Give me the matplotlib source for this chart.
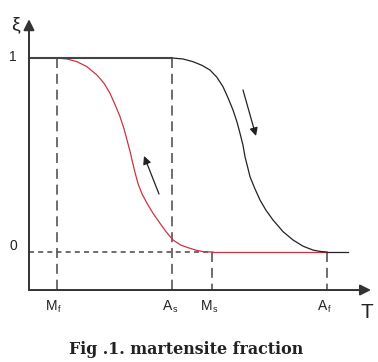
import matplotlib
matplotlib.use('Agg')
import matplotlib.pyplot as plt

# transformation temperatures (arbitrary units along T)
temp_names = ['M', 'A', 'M', 'A']
temp_subs = ['f', 's', 's', 'f']
T_Mf, T_As, T_Ms, T_Af = 57, 172, 212, 327

# heating curve (black): martensite -> austenite
heat_T = [172, 183, 193, 202, 210, 217, 223, 228, 233, 237, 240, 243, 245, 248, 250,
          255, 260, 266, 273, 283, 293, 303, 313, 320, 327]
heat_xi = [1.0, 0.995, 0.981, 0.962, 0.938, 0.900, 0.852, 0.795, 0.732, 0.670, 0.612,
           0.550, 0.491, 0.430, 0.388, 0.325, 0.268, 0.215, 0.165, 0.105, 0.062, 0.030,
           0.010, 0.003, 0.0]

# cooling curve (red): austenite -> martensite
cool_T = [57, 67, 77, 87, 97, 104, 110, 115, 120, 124, 127, 130, 132, 135, 138,
          142, 147, 153, 160, 166, 173, 181, 190, 197, 203, 213]
cool_xi = [1.0, 0.995, 0.981, 0.955, 0.912, 0.870, 0.818, 0.760, 0.698, 0.635, 0.577,
           0.520, 0.474, 0.410, 0.353, 0.300, 0.251, 0.200, 0.148, 0.105, 0.062, 0.035,
           0.019, 0.008, 0.002, 0.0]

x_end = 348          # where the xi=0 line stops
axis_T = 29          # position of the xi axis
axis_xi = -0.196     # position of the T axis

fig = plt.figure(figsize=(3.78, 3.62), dpi=100)
ax = fig.add_axes([0, 0, 1, 1])
ax.set_xlim(0, 378)
ax.set_ylim((252 - 362) / 194, 252 / 194)
ax.axis('off')

axc = '#333333'
dashc = '#555555'

# axes with arrow heads
ax.annotate('', xy=(axis_T, 1.20), xytext=(axis_T, axis_xi),
            arrowprops=dict(arrowstyle='-|>', lw=1.4, color=axc, mutation_scale=16,
                            shrinkA=0, shrinkB=0))
ax.annotate('', xy=(371, axis_xi), xytext=(axis_T, axis_xi),
            arrowprops=dict(arrowstyle='-|>', lw=1.4, color=axc, mutation_scale=16,
                            shrinkA=0, shrinkB=0))

# dashed guide lines
ax.plot([T_Mf, T_Mf], [1, axis_xi], color=dashc, lw=1.2, ls=(0, (6, 3.5)))
ax.plot([T_As, T_As], [1, axis_xi], color=dashc, lw=1.2, ls=(0, (6, 3.5)))
ax.plot([T_Ms, T_Ms], [0, axis_xi], color=dashc, lw=1.2, ls=(0, (6, 3.5)))
ax.plot([T_Af, T_Af], [0, axis_xi], color=dashc, lw=1.2, ls=(0, (6, 3.5)))
ax.plot([axis_T, T_Ms], [0, 0], color=dashc, lw=1.2, ls=(0, (3, 2.5)))

# curves
ax.plot(cool_T, cool_xi, color='#cc3344', lw=0.9)
ax.plot([T_Ms, T_Af], [0, 0], color='#cc3344', lw=0.9)
ax.plot([T_Af, x_end], [0, 0], color='#222222', lw=0.9)
ax.plot(heat_T, heat_xi, color='#222222', lw=0.9)
ax.plot([axis_T, T_As], [1, 1], color='#444444', lw=1.5)

# direction arrows
ax.annotate('', xy=(256, 0.598), xytext=(243, 0.835),
            arrowprops=dict(arrowstyle='-|>', lw=0.9, color='#222222', mutation_scale=12,
                            shrinkA=0, shrinkB=0))
ax.annotate('', xy=(144, 0.495), xytext=(159, 0.299),
            arrowprops=dict(arrowstyle='-|>', lw=0.9, color='#222222', mutation_scale=12,
                            shrinkA=0, shrinkB=0))

# labels
fam = ['Liberation Sans', 'DejaVu Sans']
txt = dict(color='#222222', family=fam)
ax.text(15, 1.17, '\u03be', fontsize=14, ha='center', va='center', **txt)
ax.text(13, 1.005, '1', fontsize=10, ha='center', va='center', **txt)
ax.text(13, 0.031, '0', fontsize=10, ha='center', va='center', **txt)
ax.text(367, (252 - 312.5) / 194, 'T', fontsize=15, ha='center', va='center', **txt)
for t, n, s in zip([T_Mf, T_As, T_Ms, T_Af], temp_names, temp_subs):
    yy = (252 - 306) / 194
    ax.text(t + 0.5, yy, n, fontsize=10, ha='right', va='center', **txt)
    ax.text(t + 0.5, yy - 0.02, s, fontsize=6.5, ha='left', va='center', **txt)

fig.text(186 / 378, 1 - 349 / 362, 'Fig .1. martensite fraction', fontsize=11.4,
         fontweight='bold', family='DejaVu Serif', ha='center', va='center',
         color='#222222')

fig.savefig('out.png', dpi=100)
